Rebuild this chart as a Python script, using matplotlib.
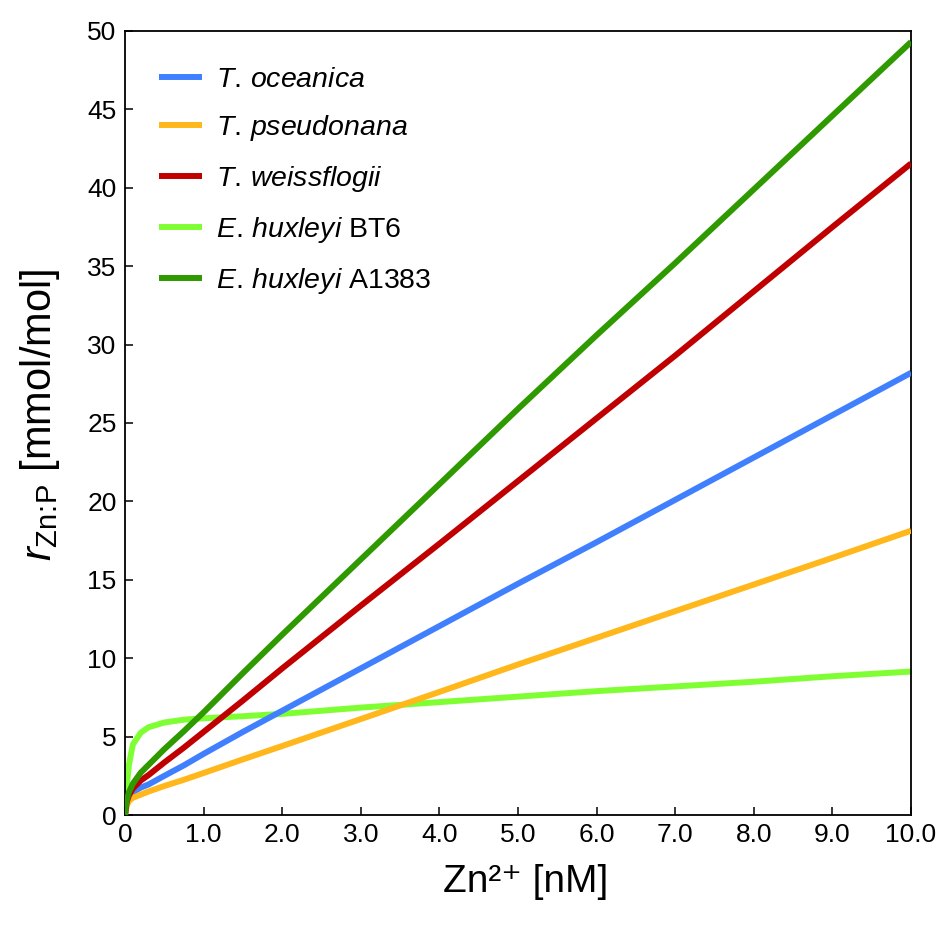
import matplotlib.pyplot as plt

# ---- fonts (Arial-like) ----
plt.rcParams["font.family"] = ["Liberation Sans", "DejaVu Sans"]
plt.rcParams["mathtext.fontset"] = "custom"
plt.rcParams["mathtext.rm"] = "Liberation Sans"
plt.rcParams["mathtext.it"] = "Liberation Sans:italic"
plt.rcParams["mathtext.bf"] = "Liberation Sans:bold"

# ---- data ----
zn = [0, 0.02, 0.05, 0.1, 0.2, 0.3, 0.5, 0.75, 1, 1.5, 2, 3, 4, 5, 6, 7, 8, 9, 10]

t_oceanica = [0, 0.7, 1.1, 1.45, 1.75, 1.95, 2.5, 3.17, 3.9, 5.3, 6.65, 9.35,
              12.05, 14.75, 17.4, 20.1, 22.8, 25.5, 28.2]
t_pseudonana = [0, 0.55, 0.9, 1.1, 1.3, 1.5, 1.85, 2.25, 2.68, 3.55, 4.4, 6.12,
                7.85, 9.6, 11.3, 13.0, 14.7, 16.4, 18.13]
t_weissflogii = [0, 0.8, 1.25, 1.7, 2.2, 2.55, 3.35, 4.3, 5.3, 7.3, 9.35, 13.35,
                 17.3, 21.3, 25.3, 29.3, 33.4, 37.5, 41.55]
e_hux_bt6 = [0, 1.7, 3.2, 4.5, 5.25, 5.6, 5.9, 6.08, 6.17, 6.3, 6.45, 6.85,
             7.2, 7.55, 7.9, 8.2, 8.5, 8.85, 9.15]
e_hux_a1383 = [0, 0.9, 1.45, 2.0, 2.7, 3.2, 4.2, 5.35, 6.55, 9.05, 11.5, 16.3,
               21.1, 25.9, 30.6, 35.2, 39.9, 44.6, 49.3]

labels = [
    r"$\it{T.\,oceanica}$",
    r"$\it{T.\,pseudonana}$",
    r"$\it{T.\,weissflogii}$",
    r"$\it{E.\,huxleyi}$ BT6",
    r"$\it{E.\,huxleyi}$ A1383",
]
series = [t_oceanica, t_pseudonana, t_weissflogii, e_hux_bt6, e_hux_a1383]
colors = ["#4080FF", "#FFB71B", "#C00000", "#7FFF33", "#2E9A00"]
zorders = [3, 3, 3, 2, 3]

x_ticks = [0, 1, 2, 3, 4, 5, 6, 7, 8, 9, 10]
x_ticklabels = ["0", "1.0", "2.0", "3.0", "4.0", "5.0", "6.0", "7.0", "8.0", "9.0", "10.0"]
y_ticks = [0, 5, 10, 15, 20, 25, 30, 35, 40, 45, 50]

# ---- figure ----
fig = plt.figure(figsize=(9.37, 9.27), dpi=100)
ax = fig.add_axes([0.1334, 0.1208, 0.8389, 0.8458])

for y, c, lab, z in zip(series, colors, labels, zorders):
    ax.plot(zn, y, color=c, linewidth=4.3, label=lab, zorder=z,
            solid_capstyle="butt")

ax.set_xlim(0, 10)
ax.set_ylim(0, 50)
ax.set_xticks(x_ticks)
ax.set_xticklabels(x_ticklabels)
ax.set_yticks(y_ticks)
ax.tick_params(direction="in", length=6, width=1.1, labelsize=19, pad=6)
for s in ax.spines.values():
    s.set_linewidth(1.3)

ax.set_xlabel("Zn²⁺ [nM]", fontsize=28, va="center")
ax.xaxis.set_label_coords(0.51, -0.0855)
ax.set_ylabel(r"$r_{\mathrm{Zn}\!:\!\mathrm{P}}$ [mmol/mol]", fontsize=30, va="center")
ax.yaxis.set_label_coords(-0.108, 0.511)

ax.legend(loc="upper left", bbox_to_anchor=(0.018, 0.98), frameon=False,
          fontsize=20.5, handlelength=1.5, handletextpad=0.5, labelspacing=0.73,
          borderaxespad=0.3)

fig.savefig("out.png", dpi=100)
